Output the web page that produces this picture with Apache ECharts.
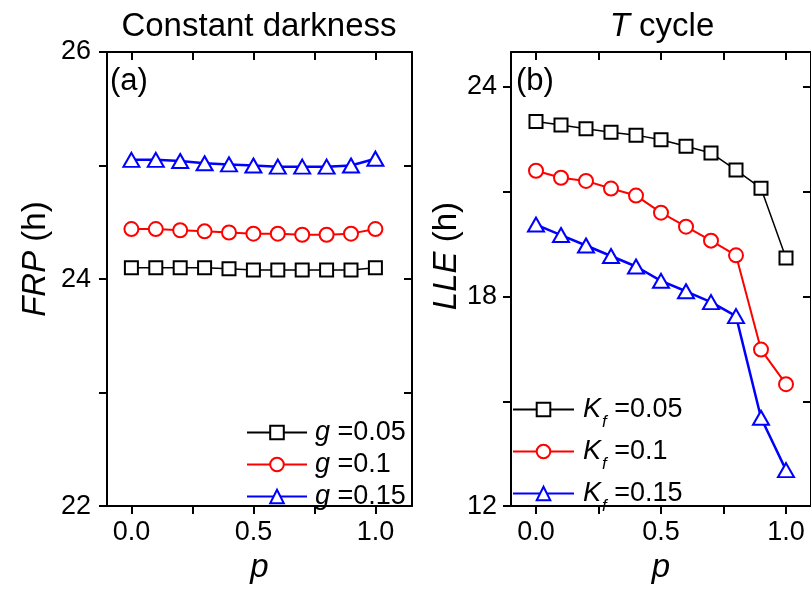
<!DOCTYPE html>
<html>
<head>
<meta charset="utf-8">
<title>FRP and LLE vs p</title>
<script src="https://cdn.jsdelivr.net/npm/echarts@6/dist/echarts.min.js"></script>
<style>
  html, body { margin: 0; padding: 0; background: #fff; }
  #chart { width: 811px; height: 589px; }
</style>
</head>
<body>
<div id="chart"></div>
<script>
// x values (p) shared by every curve
const pValues = [0, 0.1, 0.2, 0.3, 0.4, 0.5, 0.6, 0.7, 0.8, 0.9, 1.0]

// (a) constant darkness: FRP (h)
const frpG005 = [24.10, 24.10, 24.10, 24.10, 24.09, 24.08, 24.08, 24.08, 24.08, 24.08, 24.10]
const frpG01 = [24.44, 24.44, 24.43, 24.42, 24.41, 24.40, 24.40, 24.39, 24.39, 24.40, 24.44]
const frpG015 = [25.05, 25.05, 25.04, 25.02, 25.01, 25.00, 24.99, 24.99, 24.99, 25.00, 25.06]

// (b) T cycle: LLE (h)
const lleK005 = [23.01, 22.91, 22.80, 22.70, 22.62, 22.49, 22.30, 22.11, 21.62, 21.10, 19.10]
const lleK01 = [21.60, 21.40, 21.31, 21.09, 20.89, 20.40, 20.00, 19.60, 19.18, 16.48, 15.49]
const lleK015 = [20.06, 19.76, 19.46, 19.16, 18.86, 18.45, 18.15, 17.84, 17.44, 14.53, 13.03]

// tick values
const xTicks = [0, 0.25, 0.5, 0.75, 1.0]
const xLabels = [0, 0.5, 1.0]
const frpTicks = [22, 23, 24, 25, 26]
const frpLabels = [22, 24, 26]
const lleTicks = [12, 15, 18, 21, 24]
const lleLabels = [12, 18, 24]

const FONT = "'Liberation Sans', Arial, sans-serif"
const BLACK = '#000'

const toPairs = ys => ys.map((y, i) => [pValues[i], y])

// 四条边的坐标轴：下/左带标签、刻度朝外；上/右刻度朝内
function xAxesFor (grid, min, max) {
  const line = { show: true, onZero: false, lineStyle: { color: BLACK, width: 2 } }
  return [
    {
      type: 'value', gridIndex: grid, position: 'bottom', min: min, max: max,
      splitLine: { show: false },
      axisLine: line,
      axisTick: { show: true, inside: false, length: 8, customValues: xTicks, lineStyle: { color: BLACK, width: 2 } },
      axisLabel: { show: true, customValues: xLabels, formatter: v => v.toFixed(1), margin: 13, fontSize: 27, color: BLACK, fontFamily: FONT },
      name: 'p', nameLocation: 'middle', nameGap: 38,
      nameTextStyle: { fontSize: 33, fontStyle: 'italic', color: BLACK, fontFamily: FONT }
    },
    {
      type: 'value', gridIndex: grid, position: 'top', min: min, max: max,
      splitLine: { show: false },
      axisLine: line,
      axisTick: { show: true, inside: true, length: 8, customValues: xTicks, lineStyle: { color: BLACK, width: 2 } },
      axisLabel: { show: false }
    }
  ]
}

function yAxesFor (grid, min, max, ticks, labels, nameRich, gap, shift) {
  const line = { show: true, onZero: false, lineStyle: { color: BLACK, width: 2 } }
  return [
    {
      type: 'value', gridIndex: grid, position: 'left', min: min, max: max,
      splitLine: { show: false },
      axisLine: line,
      axisTick: { show: true, inside: false, length: 8, customValues: ticks, lineStyle: { color: BLACK, width: 2 } },
      axisLabel: { show: true, customValues: labels, margin: gap.label, fontSize: 27, color: BLACK, fontFamily: FONT },
      name: nameRich, nameLocation: 'middle', nameGap: gap.name,
      nameTextStyle: {
        fontSize: 33, color: BLACK, fontFamily: FONT, padding: [0, 0, 0, shift],
        rich: { i: { fontSize: 33, fontStyle: 'italic', color: BLACK, fontFamily: FONT } }
      }
    },
    {
      type: 'value', gridIndex: grid, position: 'right', min: min, max: max,
      splitLine: { show: false },
      axisLine: line,
      axisTick: { show: true, inside: true, length: 8, customValues: ticks, lineStyle: { color: BLACK, width: 2 } },
      axisLabel: { show: false }
    }
  ]
}

function lineSeries (name, x, y, data, color, symbol, size, width) {
  return {
    name: name,
    type: 'line',
    xAxisIndex: x,
    yAxisIndex: y,
    data: data,
    symbol: symbol,
    symbolSize: size,
    showAllSymbol: true,
    lineStyle: { color: color, width: width },
    itemStyle: { color: color, borderWidth: 1.3 },
    z: 3
  }
}

const chart = echarts.init(document.getElementById('chart'), null, { renderer: 'canvas' })

const option = {
  animation: false,
  backgroundColor: '#fff',
  textStyle: { fontFamily: FONT },
  grid: [
    { left: 107, top: 52, width: 305, height: 462 },
    { left: 511, top: 52, width: 304, height: 462 }
  ],
  xAxis: [
    ...xAxesFor(0, -0.1, 1.15),
    ...xAxesFor(1, -0.1, 1.1)
  ],
  yAxis: [
    ...yAxesFor(0, 22, 26, frpTicks, frpLabels, '{i|FRP} (h)', { label: 16, name: 55 }, 40),
    ...yAxesFor(1, 12, 25, lleTicks, lleLabels, '{i|LLE} (h)', { label: 14, name: 45 }, 46)
  ],
  legend: [
    {
      data: ['g =0.05', 'g =0.1', 'g =0.15'],
      orient: 'vertical', left: 246, top: 419, padding: 0,
      itemWidth: 60, itemHeight: 17, itemGap: 5,
      formatter: name => '{i|g}{v|' + name.slice(1) + '}',
      textStyle: {
        color: BLACK, fontSize: 27, padding: [0, 0, 0, 3],
        rich: {
          i: { fontSize: 27, fontStyle: 'italic', color: BLACK, fontFamily: FONT },
          v: { fontSize: 27, color: BLACK, fontFamily: FONT }
        }
      }
    },
    {
      data: ['Kf =0.05', 'Kf =0.1', 'Kf =0.15'],
      orient: 'vertical', left: 512, top: 396, padding: 0,
      itemWidth: 61, itemHeight: 17, itemGap: 7,
      formatter: name => '{k|K}{f|f}{v|' + name.slice(2) + '}',
      textStyle: {
        color: BLACK, fontSize: 27, padding: [0, 0, 0, 4],
        rich: {
          k: { fontSize: 27, lineHeight: 27, fontStyle: 'italic', color: BLACK, fontFamily: FONT, verticalAlign: 'top' },
          f: { fontSize: 17, lineHeight: 17, fontStyle: 'italic', color: BLACK, fontFamily: FONT, verticalAlign: 'top', padding: [18, 0, 0, 1] },
          v: { fontSize: 27, lineHeight: 27, color: BLACK, fontFamily: FONT, verticalAlign: 'top' }
        }
      }
    }
  ],
  graphic: [
    { type: 'text', x: 259, y: 27, style: { text: 'Constant darkness', align: 'center', verticalAlign: 'middle', font: '33px ' + FONT, fill: BLACK } },
    {
      type: 'text', x: 662, y: 27,
      style: {
        text: '{i|T} cycle', align: 'center', verticalAlign: 'middle', font: '33px ' + FONT, fill: BLACK,
        rich: { i: { fontStyle: 'italic', fontSize: 33, fontFamily: FONT, fill: BLACK } }
      }
    },
    { type: 'text', x: 110, y: 81, style: { text: '(a)', verticalAlign: 'middle', font: '31px ' + FONT, fill: BLACK } },
    { type: 'text', x: 516, y: 81, style: { text: '(b)', verticalAlign: 'middle', font: '31px ' + FONT, fill: BLACK } }
  ],
  series: [
    lineSeries('g =0.05', 0, 0, toPairs(frpG005), '#000000', 'emptyRect', 13, 1.5),
    lineSeries('g =0.1', 0, 0, toPairs(frpG01), '#ff0000', 'emptyCircle', 14, 2),
    lineSeries('g =0.15', 0, 0, toPairs(frpG015), '#0000ff', 'emptyTriangle', [16, 14], 2.5),
    lineSeries('Kf =0.05', 2, 2, toPairs(lleK005), '#000000', 'emptyRect', 13, 1.5),
    lineSeries('Kf =0.1', 2, 2, toPairs(lleK01), '#ff0000', 'emptyCircle', 14, 2),
    lineSeries('Kf =0.15', 2, 2, toPairs(lleK015), '#0000ff', 'emptyTriangle', [16, 14], 2.5)
  ]
}

chart.setOption(option)
</script>
</body>
</html>
